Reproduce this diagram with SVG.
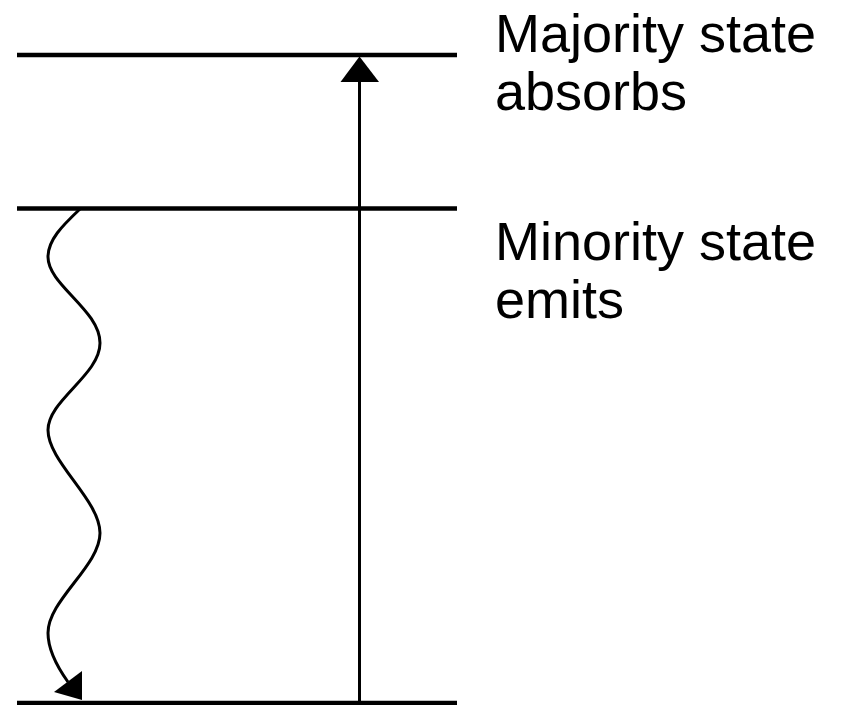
<svg xmlns="http://www.w3.org/2000/svg" width="846" height="705" viewBox="0 0 846 705">
<style>
.level{stroke:#000;stroke-width:4.5;fill:none}
.conn{stroke:#000;stroke-width:3;fill:none}
.lbl{font-family:"Liberation Sans",Arial,sans-serif;font-size:54px;fill:#000}
</style>
<rect width="846" height="705" fill="#fff"/>
<g id="level-top"><line class="level" x1="17" y1="55" x2="457" y2="55"/></g>
<g id="level-mid"><line class="level" x1="17" y1="208.5" x2="457" y2="208.5"/></g>
<g id="level-bottom"><line class="level" x1="17" y1="703" x2="457" y2="703"/></g>
<g id="label-majority"><text class="lbl" x="495" y="52">Majority state</text><text class="lbl" x="495" y="110">absorbs</text></g>
<g id="label-minority"><text class="lbl" x="495" y="260">Minority state</text><text class="lbl" x="495" y="318">emits</text></g>
<g id="connectors">
<line class="conn" x1="359.5" y1="703" x2="359.5" y2="80"/>
<polygon points="359.5,56.5 340.5,82 379,82" fill="#000"/>
<path class="conn" d="M80,209 C62,226 48,240 48,257 C48,285 100,310 100,343 C100,375 48,400 48,430 C48,462 100,500 100,533 C100,566 48,600 48,633 C48,650 58,668 68,682"/>
<polygon points="54,692 82,671 82,700" fill="#000"/>
</g>
</svg>
